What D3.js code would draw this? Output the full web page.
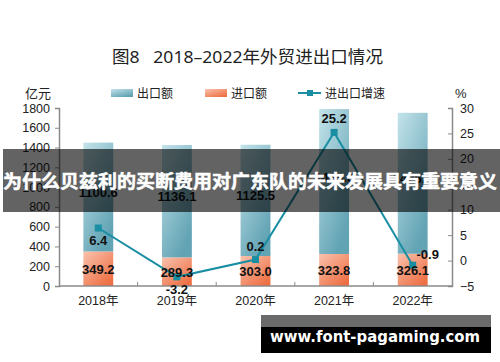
<!DOCTYPE html>
<html>
<head>
<meta charset="utf-8">
<script src="https://cdn.jsdelivr.net/npm/d3@7"></script>
<style>
  body { margin: 0; background: #fff; }
  svg { display: block; font-family: "Liberation Sans", "Noto Sans CJK SC", sans-serif; }
</style>
</head>
<body>
<svg id="chart"></svg>
<script>
// Data
const years = ["2018年", "2019年", "2020年", "2021年", "2022年"];
const exportVals = [1100.6, 1136.1, 1125.5, 1465.6, 1425.2];
const importVals = [349.2, 289.3, 303.0, 323.8, 326.1];
const growthVals = [6.4, -3.2, 0.2, 25.2, -0.9];
const leftTicks = [0, 200, 400, 600, 800, 1000, 1200, 1400, 1600, 1800];
const rightTicks = [-5, 0, 5, 10, 15, 20, 25, 30];

const W = 500, H = 362;
const margin = {top: 108, right: 48, bottom: 76, left: 59},
    width = W - margin.left - margin.right,
    height = H - margin.top - margin.bottom;

const root = d3.select("#chart").attr("width", W).attr("height", H);
const defs = root.append("defs");

const gExp = defs.append("linearGradient").attr("id", "gExp")
    .attr("x1", "0").attr("y1", "0").attr("x2", "0.6").attr("y2", "1");
gExp.append("stop").attr("offset", "0").attr("stop-color", "#c3e3ea");
gExp.append("stop").attr("offset", "1").attr("stop-color", "#62a3b4");

const gImp = defs.append("linearGradient").attr("id", "gImp")
    .attr("x1", "0").attr("y1", "0").attr("x2", "0.8").attr("y2", "1");
gImp.append("stop").attr("offset", "0").attr("stop-color", "#f9c2ad");
gImp.append("stop").attr("offset", "1").attr("stop-color", "#ee6e42");

const svg = root.append("g")
    .attr("transform", `translate(${margin.left},${margin.top})`);

// Scales
const x = d3.scaleBand().domain(years).range([0, width]).paddingInner(0.62).paddingOuter(0.31);
const band = d3.scaleBand().domain(years).range([0, width]);
const yL = d3.scaleLinear().domain([0, 1800]).range([height, 0]);
const yR = d3.scaleLinear().domain([-5, 30]).range([height, 0]);

const lineColor = "#1a8ea3";

// Title
root.append("text")
    .attr("x", 112).attr("y", 63)
    .attr("font-size", 17).attr("fill", "#222")
    .attr("font-family", "Noto Sans, Noto Sans CJK SC, sans-serif")
    .attr("xml:space", "preserve")
    .attr("textLength", 271).attr("lengthAdjust", "spacingAndGlyphs")
    .text("图8   2018–2022年外贸进出口情况");

// Legend
root.append("text").attr("x", 25).attr("y", 98).attr("font-size", 13).attr("fill", "#222").text("亿元");
root.append("text").attr("x", 455).attr("y", 98).attr("font-size", 13).attr("fill", "#222").text("%");
root.append("rect").attr("x", 111).attr("y", 89).attr("width", 22).attr("height", 8).attr("fill", "url(#gExp)");
root.append("text").attr("x", 137).attr("y", 98).attr("font-size", 12).attr("fill", "#222").text("出口额");
root.append("rect").attr("x", 205).attr("y", 89).attr("width", 22).attr("height", 8).attr("fill", "url(#gImp)");
root.append("text").attr("x", 231).attr("y", 98).attr("font-size", 12).attr("fill", "#222").text("进口额");
root.append("line").attr("x1", 298).attr("x2", 321).attr("y1", 93).attr("y2", 93)
    .attr("stroke", lineColor).attr("stroke-width", 2);
root.append("rect").attr("x", 307).attr("y", 90).attr("width", 6).attr("height", 6).attr("fill", lineColor);
root.append("text").attr("x", 325).attr("y", 98).attr("font-size", 12).attr("fill", "#222").text("进出口增速");

// Bars: import at bottom, export stacked on top
svg.selectAll(".imp")
    .data(years)
    .enter()
    .append("rect")
    .attr("x", d => x(d))
    .attr("width", x.bandwidth())
    .attr("y", (d, i) => yL(importVals[i]))
    .attr("height", (d, i) => height - yL(importVals[i]))
    .attr("fill", "url(#gImp)");

svg.selectAll(".exp")
    .data(years)
    .enter()
    .append("rect")
    .attr("x", d => x(d))
    .attr("width", x.bandwidth())
    .attr("y", (d, i) => yL(importVals[i] + exportVals[i]))
    .attr("height", (d, i) => yL(importVals[i]) - yL(importVals[i] + exportVals[i]))
    .attr("fill", "url(#gExp)");

// Axes
const axisColor = "#8a8a8a";
const left = svg.append("g").call(d3.axisLeft(yL).tickValues(leftTicks).tickFormat(d3.format("d")).tickSize(4).tickPadding(5));
const right = svg.append("g").attr("transform", `translate(${width},0)`)
    .call(d3.axisRight(yR).tickValues(rightTicks).tickSize(-4).tickPadding(8));
const bottom = svg.append("g").attr("transform", `translate(0,${height})`)
    .call(d3.axisBottom(band).tickSize(0).tickPadding(10));
[left, right, bottom].forEach(g => {
    g.select(".domain").attr("stroke", axisColor).attr("stroke-width", 1.5);
    g.selectAll(".tick line").attr("stroke", axisColor);
    g.selectAll("text").attr("font-size", 12.5).attr("fill", "#222")
        .attr("font-family", "Liberation Sans, Noto Sans CJK SC, sans-serif");
});
bottom.select(".domain").attr("d", `M0,0H${width}`);
// upward ticks on band boundaries
svg.append("g").selectAll("line")
    .data(years.slice(1))
    .enter()
    .append("line")
    .attr("x1", d => band(d)).attr("x2", d => band(d))
    .attr("y1", height).attr("y2", height - 4)
    .attr("stroke", axisColor);

// Growth line
const line = d3.line()
    .x((d, i) => band(years[i]) + band.bandwidth() / 2)
    .y(d => yR(d));
svg.append("path")
    .datum(growthVals)
    .attr("d", line)
    .attr("fill", "none")
    .attr("stroke", lineColor)
    .attr("stroke-width", 2);
svg.selectAll(".pt")
    .data(growthVals)
    .enter()
    .append("rect")
    .attr("x", (d, i) => band(years[i]) + band.bandwidth() / 2 - 3.5)
    .attr("y", d => yR(d) - 3.5)
    .attr("width", 7).attr("height", 7)
    .attr("fill", lineColor);

// Value labels
const lab = {"font-size": 13, "font-weight": "bold", "fill": "#111", "text-anchor": "middle"};
function label(sel) {
    Object.entries(lab).forEach(([k, v]) => sel.attr(k, v));
    return sel;
}
label(svg.selectAll(".il").data(importVals).enter().append("text"))
    .attr("x", (d, i) => band(years[i]) + band.bandwidth() / 2)
    .attr("y", d => yL(d / 2) + 5)
    .text(d => d.toFixed(1));
label(svg.selectAll(".el").data(exportVals).enter().append("text"))
    .attr("x", (d, i) => band(years[i]) + band.bandwidth() / 2)
    .attr("y", (d, i) => yL(importVals[i] + d / 2))
    .text(d => d.toFixed(1));
const gOff = [[0, 17], [0, 17], [0, -9], [0, -9], [15, -6]];
label(svg.selectAll(".gl").data(growthVals).enter().append("text"))
    .attr("x", (d, i) => band(years[i]) + band.bandwidth() / 2 + gOff[i][0])
    .attr("y", (d, i) => yR(d) + gOff[i][1])
    .text(d => d.toFixed(1));

// Overlay banner
root.append("rect").attr("x", 3).attr("y", 149).attr("width", 497).attr("height", 63)
    .attr("fill", "rgba(0,0,0,0.61)");
root.append("text")
    .attr("x", 250).attr("y", 188)
    .attr("text-anchor", "middle")
    .attr("font-family", "Noto Sans CJK SC, sans-serif")
    .attr("font-size", 18.5).attr("font-weight", "bold").attr("fill", "#fff")
    .attr("stroke", "#fff").attr("stroke-width", 0.5)
    .attr("textLength", 494).attr("lengthAdjust", "spacingAndGlyphs")
    .text("为什么贝兹利的买断费用对广东队的未来发展具有重要意义");

// Watermark
root.append("rect").attr("x", 261).attr("y", 315).attr("width", 230).attr("height", 12).attr("fill", "#6a6a6a");
root.append("rect").attr("x", 261).attr("y", 327).attr("width", 230).attr("height", 26).attr("fill", "#000");
root.append("text")
    .attr("x", 270).attr("y", 342)
    .attr("font-family", "DejaVu Sans, sans-serif")
    .attr("font-size", 15).attr("font-weight", "bold").attr("fill", "#fff")
    .attr("textLength", 210).attr("lengthAdjust", "spacingAndGlyphs")
    .text("www.font-pagaming.com");
</script>
</body>
</html>
